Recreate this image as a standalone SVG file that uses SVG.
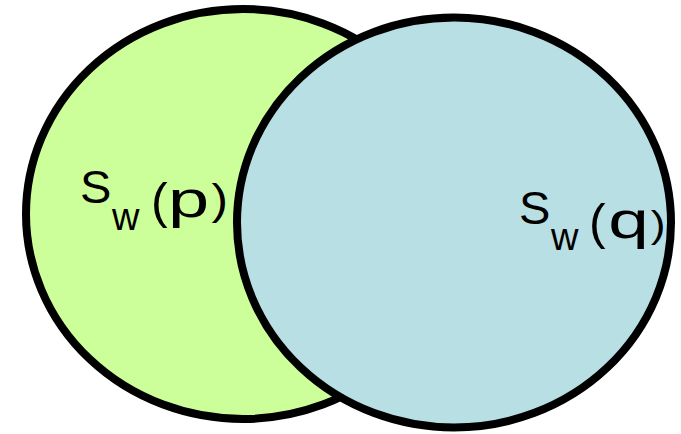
<svg xmlns="http://www.w3.org/2000/svg" width="681" height="434" viewBox="0 0 681 434">
<style>
.set{stroke:#000;stroke-width:8}
.lbl{font-family:"Liberation Sans",Arial,sans-serif;fill:#000}
</style>
<rect width="681" height="434" fill="#fff"/>
<g id="node-p">
<ellipse class="set" cx="243" cy="214" rx="217" ry="205" fill="#CCFF99"/>
</g>
<g id="node-q">
<ellipse class="set" cx="454" cy="222.5" rx="217" ry="205" fill="#B8DFE3"/>
</g>
<g id="label-p" class="lbl">
<text transform="translate(82,203) scale(1.0,1)" x="-2" y="0" font-size="47">S</text>
<text x="112" y="230" font-size="38">w</text>
<text x="151" y="218" font-size="50">(</text>
<text transform="translate(173,217) scale(1.45,1)" x="-3.4" y="0" font-size="51">p</text>
<text transform="translate(213,214) scale(1.15,1)" x="-1.3" y="0" font-size="43">)</text>
</g>
<g id="label-q" class="lbl">
<text transform="translate(521,224) scale(1.0,1)" x="-2" y="0" font-size="47">S</text>
<text x="551" y="250" font-size="38">w</text>
<text x="589" y="239" font-size="50">(</text>
<text transform="translate(611,238) scale(1.43,1)" x="-2" y="0" font-size="51">q</text>
<text transform="translate(652,237) scale(1.2,1)" x="-1.1" y="0" font-size="37">)</text>
</g>
<g id="connectors"/>
</svg>
